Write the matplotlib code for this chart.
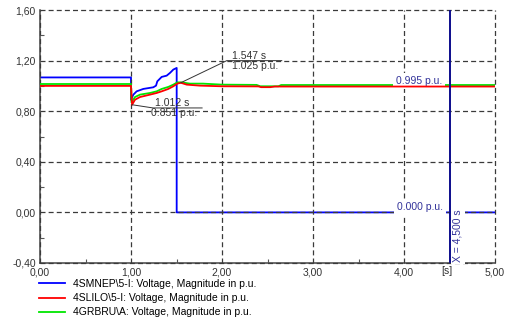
import matplotlib
matplotlib.use("Agg")
import matplotlib.pyplot as plt
import matplotlib.transforms as mtransforms
from matplotlib.lines import Line2D

plt.rcParams['font.family'] = ['Liberation Sans', 'DejaVu Sans']
FS = 7.5

# Simulation traces (time in s, voltage magnitude in p.u.)
t_smnep = [0.0, 1.0, 1.0, 1.026, 1.062, 1.135, 1.245, 1.275, 1.289, 1.337, 1.392,
           1.429, 1.465, 1.502, 1.502, 5.0]
v_smnep = [1.067, 1.067, 0.891, 0.931, 0.957, 0.976, 0.989, 1.002, 1.036, 1.071, 1.081,
           1.103, 1.129, 1.142, 0.0, 0.0]

t_slilo = [0.0, 1.0, 1.012, 1.044, 1.099, 1.209, 1.282, 1.337, 1.41, 1.465, 1.509,
           1.547, 1.612, 1.758, 2.0, 2.40, 2.43, 2.53, 2.58, 4.5, 5.0]
v_slilo = [1.000, 1.000, 0.851, 0.891, 0.912, 0.931, 0.944, 0.957, 0.976, 0.997, 1.018,
           1.025, 1.010, 1.002, 0.997, 0.996, 0.990, 0.990, 0.995, 0.995, 0.995]

t_grbru = [0.0, 1.0, 1.005, 1.044, 1.099, 1.209, 1.282, 1.337, 1.41, 1.465, 1.509,
           1.555, 1.648, 1.79, 2.0, 2.38, 2.42, 2.62, 2.65, 5.0]
v_grbru = [1.015, 1.015, 0.870, 0.912, 0.931, 0.944, 0.957, 0.976, 0.992, 1.010, 1.028,
           1.028, 1.018, 1.018, 1.010, 1.008, 0.997, 0.997, 1.007, 1.007]

labels = ["4SMNEP\\5-I: Voltage, Magnitude in p.u.",
          "4SLILO\\5-I: Voltage, Magnitude in p.u.",
          "4GRBRU\\A: Voltage, Magnitude in p.u."]
colors = ["#0000ff", "#ff0000", "#00e600"]

x_ticks = [0, 1, 2, 3, 4, 5]
x_ticklabels = ["0,00", "1,00", "2,00", "3,00", "4,00", "5,00"]
y_ticks = [-0.4, 0.0, 0.4, 0.8, 1.2, 1.6]
y_ticklabels = ["-0,40", "0,00", "0,40", "0,80", "1,20", "1,60"]

# Annotated points and cursor readout
min_t, min_v = 1.012, 0.851
peak_t, peak_v = 1.547, 1.025
cursor_t = 4.5
cursor_red = 0.995
cursor_blue = 0.000

W, H = 510, 323
fig = plt.figure(figsize=(W / 100, H / 100), dpi=100)
ax = fig.add_axes([40 / W, (H - 263) / H, 455 / W, 253 / H])

ax.plot(t_smnep, v_smnep, color=colors[0], lw=1.3, zorder=2)
ax.plot(t_grbru, v_grbru, color=colors[2], lw=1.3, zorder=3)
ax.plot(t_slilo, v_slilo, color=colors[1], lw=1.3, zorder=5)

ax.set_xlim(0, 5)
ax.set_ylim(-0.4, 1.6)
ax.set_xticks(x_ticks)
ax.set_xticklabels(x_ticklabels)
ax.set_yticks(y_ticks)
ax.set_yticklabels(y_ticklabels)
ax.set_xticks([0.5, 1.5, 2.5, 3.5, 4.5], minor=True)
ax.set_yticks([-0.2, 0.2, 0.6, 1.0, 1.4], minor=True)
ax.tick_params(which='major', length=0, labelsize=FS, colors='#333333', pad=3)
ax.tick_params(which='minor', direction='in', length=3, width=0.8, color='#555555')

ax.grid(True, which='major', color='#3a3a3a', lw=0.9, dashes=(4, 2.5), zorder=0.5)
for gl in ax.get_xgridlines() + ax.get_ygridlines():
    gl.set_clip_on(False)
for side in ('top', 'right'):
    ax.spines[side].set_visible(False)
for side in ('left', 'bottom'):
    ax.spines[side].set_color('#444444')
    ax.spines[side].set_linewidth(1.1)
ax.set_axisbelow(False)

# Cursor line
ax.axvline(cursor_t, color='#0c0c8c', lw=1.4, zorder=6)


def off(dx, dy):
    """Data transform shifted by a fixed number of pixels."""
    return mtransforms.offset_copy(ax.transData, fig=fig, x=dx, y=dy, units='dots')


def anchored(x, y):
    """Pixel-offset frame whose origin sits on the data point (x, y)."""
    return mtransforms.Affine2D().translate(*ax.transData.transform((x, y)))


ax.text(4.47, -0.4, "[s]", transform=off(0, -3), ha='center', va='top',
        fontsize=FS, color='#333333')

ann_c = '#333333'
# Minimum annotation
ax.add_line(Line2D([0, 21, 70], [0, -3.2, -3.2], lw=0.7, color=ann_c, zorder=7,
                   transform=anchored(min_t, min_v)))
ax.text(min_t, min_v, f"{min_t:.3f} s", transform=off(23, 2), ha='left', va='center',
        fontsize=FS, color=ann_c, zorder=7)
ax.text(min_t, min_v, f"{min_v:.3f} p.u.", transform=off(19, -8.5), ha='left',
        va='center', fontsize=FS, color=ann_c, zorder=7)

# Peak annotation
ax.add_line(Line2D([0, 46, 101], [0, 22.1, 22.1], lw=0.7, color=ann_c, zorder=7,
                   transform=anchored(peak_t, peak_v)))
ax.text(peak_t, peak_v, f"{peak_t:.3f} s", transform=off(51.5, 27), ha='left',
        va='center', fontsize=FS, color=ann_c, zorder=7)
ax.text(peak_t, peak_v, f"{peak_v:.3f} p.u.", transform=off(51.5, 16.4), ha='left',
        va='center', fontsize=FS, color=ann_c, zorder=7)

# Cursor readouts
lab_c = '#33339a'
ax.text(cursor_t, cursor_red, f"{cursor_red:.3f} p.u.", transform=off(-7.5, 5.2),
        ha='right', va='center', fontsize=FS, color=lab_c, zorder=4,
        bbox=dict(boxstyle='square,pad=0.3', fc='white', ec='none'))
ax.text(cursor_t, cursor_blue, f"{cursor_blue:.3f} p.u.", transform=off(-6.5, 5),
        ha='right', va='center', fontsize=FS, color=lab_c, zorder=4,
        bbox=dict(boxstyle='square,pad=0.3', fc='white', ec='none'))
ax.text(cursor_t, -0.4, "X = 4,500 s", transform=off(8.5, 1), rotation=90,
        ha='center', va='bottom', fontsize=FS, color=lab_c, zorder=4,
        bbox=dict(boxstyle='square,pad=0.15', fc='white', ec='none'))

handles = [Line2D([], [], color=c, lw=1.3) for c in colors]
fig.legend(handles, labels, loc='upper left', bbox_to_anchor=(39 / W, 1 - 279 / H),
           frameon=False, fontsize=FS, handlelength=2.5, handletextpad=0.75,
           labelspacing=0.4, borderpad=0, borderaxespad=0)

fig.savefig("out.png", dpi=100)
